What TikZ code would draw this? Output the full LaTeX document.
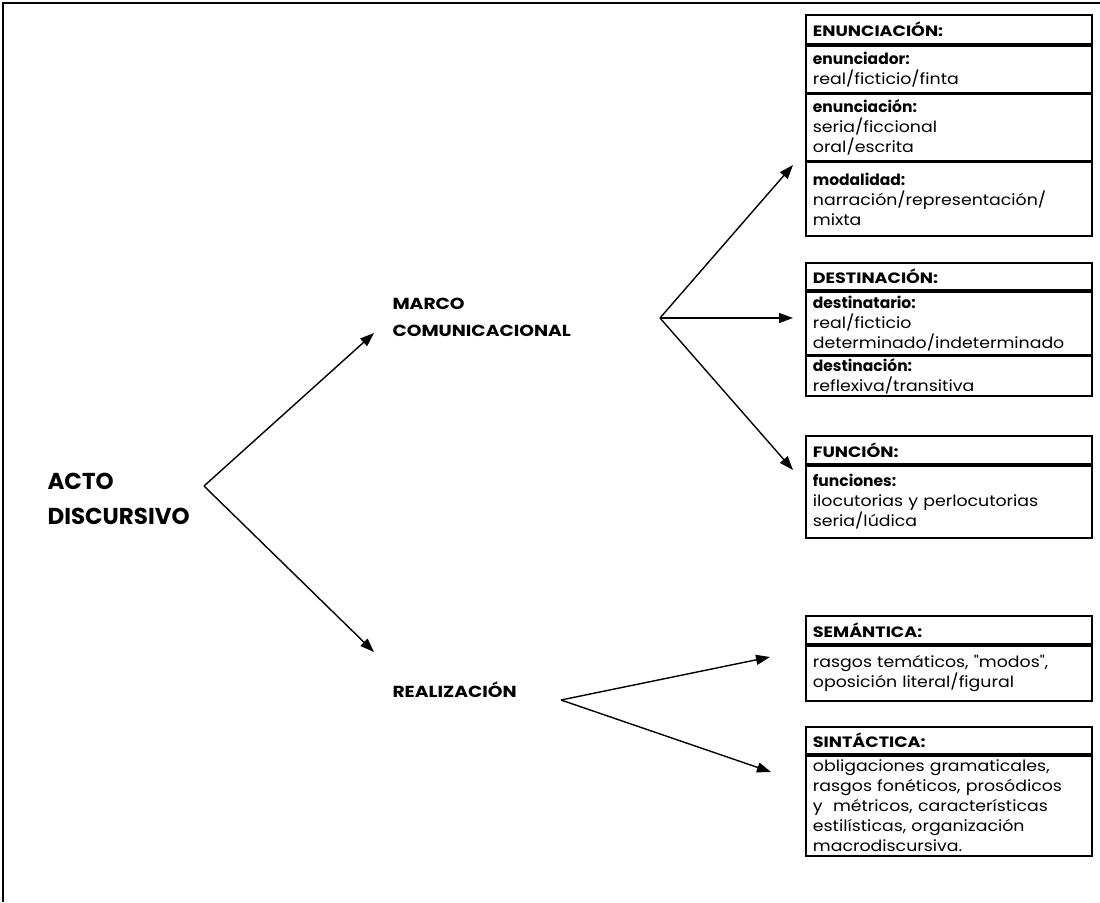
\documentclass[tikz,border=0pt]{standalone}
\usepackage{fontspec}
\setmainfont{Poppins}
\newfontfamily\bodyfont{Poppins}[FakeStretch=1.12, Ligatures=TeXOff]
\newfontfamily\capsfont{Poppins}[FakeStretch=1.17]
\newcommand\fld[1]{{\rmfamily\bfseries #1}}
\usetikzlibrary{arrows.meta,positioning}

\tikzset{
  box/.style={draw, line width=1.8pt, anchor=north west, text width=272pt,
    inner xsep=7pt, inner ysep=2pt, align=left, font=\bodyfont\fontsize{15.5}{20}\selectfont},
  boxhdr/.style={box, font=\capsfont\bfseries\fontsize{15}{20}\selectfont, minimum height=#1},
  boxrow/.style={box, minimum height=#1},
  lbl/.style={anchor=west, align=left, font=\capsfont\bfseries\fontsize{16}{27}\selectfont},
  conn/.style={line width=1.4pt, -{Triangle[length=14pt,width=10pt]}},
}

\begin{document}
\begin{tikzpicture}[x=1pt, y=-1pt]
  \useasboundingbox (0,0) rectangle (1100,902);
  \draw[line width=2pt] (1100,3) -- (3,3) -- (3,902);

  % labels
  \node[lbl, font=\rmfamily\bfseries\fontsize{23}{35}\selectfont] (acto) at (44,499) {ACTO\\DISCURSIVO};
  \node[lbl] (marco) at (389,317) {MARCO\\COMUNICACIONAL};
  \node[lbl] (realiz) at (389,690) {REALIZACIÓN};

  % enunciacion
  \node[boxhdr=29pt] (enun) at (805,14) {ENUNCIACIÓN:};
  \node[boxrow=47pt] (enun-1) at (enun.south west) {\fld{enunciador:}\\real/ficticio/finta};
  \node[boxrow=66pt] (enun-2) at (enun-1.south west) {\fld{enunciación:}\\seria/ficcional\\oral/escrita};
  \node[boxrow=74pt] (enun-3) at (enun-2.south west) {\fld{modalidad:}\\narración/representación/\\mixta};

  % destinacion
  \node[boxhdr=27pt] (dest) at (805,262) {DESTINACIÓN:};
  \node[boxrow=63pt] (dest-1) at (dest.south west) {\fld{destinatario:}\\real/ficticio\\determinado/indeterminado};
  \node[boxrow=38pt] (dest-2) at (dest-1.south west) {\fld{destinación:}\\reflexiva/transitiva};

  % funcion
  \node[boxhdr=28pt] (func) at (805,435) {FUNCIÓN:};
  \node[boxrow=72pt] (func-1) at (func.south west) {\fld{funciones:}\\ilocutorias y perlocutorias\\seria/lúdica};

  % semantica, sintactica
  \node[boxhdr=28pt] (sem) at (805,615) {SEMÁNTICA:};
  \node[boxrow=55pt] (sem-1) at (sem.south west) {rasgos temáticos, "modos",\\oposición literal/figural};
  \node[boxhdr=27pt] (sin) at (805,726) {SINTÁCTICA:};
  \node[boxrow=100pt] (sin-1) at (sin.south west) {obligaciones gramaticales,\\rasgos fonéticos, prosódicos\\y\ \ métricos, características\\estilísticas, organización\\macrodiscursiva.};

  % branch points and arrow tips
  \coordinate (acto-v) at (204,486);
  \coordinate (marco-v) at (660,318);
  \coordinate (realiz-v) at (561,700);
  \coordinate (to-marco) at (374,333);
  \coordinate (to-realiz) at (374,652);
  \coordinate (to-enun) at (793,165);
  \coordinate (to-dest) at (793,318);
  \coordinate (to-func) at (793,470);
  \coordinate (to-sem) at (770,657);
  \coordinate (to-sin) at (771,772);

  \draw[conn] (acto-v) -- (to-marco);
  \draw[conn] (acto-v) -- (to-realiz);
  \draw[conn] (marco-v) -- (to-enun);
  \draw[conn] (marco-v) -- (to-dest);
  \draw[conn] (marco-v) -- (to-func);
  \draw[conn] (realiz-v) -- (to-sem);
  \draw[conn] (realiz-v) -- (to-sin);
\end{tikzpicture}
\end{document}
